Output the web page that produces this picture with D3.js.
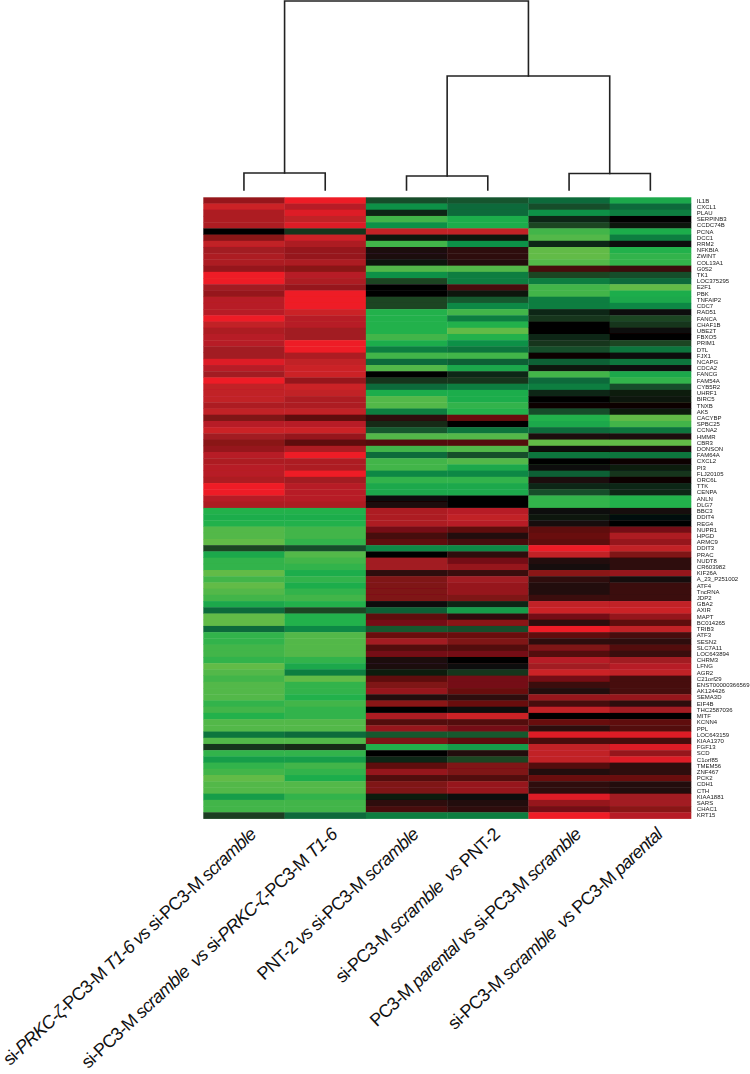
<!DOCTYPE html>
<html><head><meta charset="utf-8">
<script src="https://cdn.jsdelivr.net/npm/d3@7/dist/d3.min.js"></script>
<style>html,body{margin:0;padding:0;background:#fff}svg{display:block}</style>
</head><body><svg id="c" width="750" height="1074"></svg>
<script>
const genes = ["IL1B","CXCL1","PLAU","SERPINB3","CCDC74B","PCNA","DCC1","RRM2","NFKBIA","ZWINT","COL13A1","G0S2","TK1","LOC375295","E2F1","PBK","TNFAIP2","CDC7","RAD51","FANCA","CHAF1B","UBE2T","FBXO5","PRIM1","DTL","FJX1","NCAPG","CDCA2","FANCG","FAM54A","CYB5R2","UHRF1","BIRC5","TNXB","AK5","CACYBP","SPBC25","CCNA2","HMMR","CBR3","DONSON","FAM64A","CXCL2","PI3","FLJ20105","ORC6L","TTK","CENPA","ANLN","DLG7","BBC3","DDIT4","REG4","NUPR1","HPGD","ARMC9","DDIT3","PRAC","NUDT8","CR603982","KIF26A","A_23_P251002","ATF4","TncRNA","JDP2","GBA2","AXIR","MAPT","BC014265","TRIB3","ATF3","SESN2","SLC7A11","LOC643894","CHRM3","LFNG","AGR2","C21orf29","ENST00000366569","AK124426","SEMA3D","EIF4B","THC2587036","MITF","KCNN4","PPL","LOC643159","KIAA1370","FGF13","SCD","C1orf85","TMEM56","ZNF467","PCK2","CDH1","CTH","KIAA1881","SARS","CHAC1","KRT15"];
const col1 = [6.5,9,7.5,7.5,7.5,0,6,8.5,7,7.5,7.5,6.5,10,10,7,6.5,8,8,8,10,8.5,7.5,8,8,7,7,9.5,8,7,10,8.5,8.5,8.5,7.5,8.5,5.5,8,9,7,6,6.5,8,7.5,8,8,7.5,10,10,8,7.5,-8,-7.5,-8,-9.5,-9.5,-10,-2,-7,-8.5,-8.5,-10,-9,-10,-9.5,-9,-7,-4,-10,-10,-4,-8.5,-8.5,-9,-9,-8.5,-10,-9.5,-9,-9.5,-9.5,-9.5,-8.5,-9,-8,-9.5,-9.5,-4.5,-9.5,-1.5,-8.5,-6.5,-8.5,-9,-10,-9.5,-9.5,-6.5,-9,-9,-1.8];
const col2 = [10,8,9.5,8.5,9.5,-1.5,9,7.5,6.5,6.5,7.5,6,8,7.5,6.5,10,10,10,9,8,8,7,7,10,10,7.5,8.5,9,9,6.5,9,8.5,7.5,7.5,8.5,4,8,9,6.5,4,7.5,10,7.5,7.5,10,7,8,8,8,7.5,-8,-7.5,-8,-9,-9,-8.5,-2.5,-9.5,-9,-8.5,-7.5,-8.5,-7.5,-8.5,-9,-8,-2,-8,-8,-5.5,-9.5,-9.5,-9.5,-9.5,-8.5,-7,-5,-10,-8.5,-8.5,-8,-9,-8.5,-8.5,-9.5,-9.5,-4,-9.5,-1.2,-8.5,-6.5,-9,-8.5,-7.5,-9.5,-9.5,-8.5,-9,-9,-4];
const col3 = [-2.5,-6,-1,-9,-6,8.5,-0.5,-9,1,1,-0.5,-9.5,-6,-2,0,0,-2,-2,-8,-8,-8,-8,-9,-7.5,-5,-9,-4,-9.5,0,-1.5,-4,-7.5,-9.5,-9.5,-5,2,-1.2,-3,-9.5,3.5,-9,-4,-9,-9,-5.5,-8.5,-7,-7,0.5,1,7.5,7.5,7.5,5,3,4,-5.5,0,7,7,2,5.5,5.5,5.5,5.5,-0.3,-3.5,4,5,-3,4.5,7,3.5,5,1,1,-0.7,4,5.5,6.5,1.5,6,0,7.5,3.5,6.5,-3,5.5,-8,0,-1,4,6.5,3.5,5.5,5.5,-0.7,2,3,-5];
const col4 = [-2.8,-4,-4,-7.5,-7.5,8.5,-0.5,-6,2,2,1.5,-9.5,-5,-5,3,-0.5,-3,-5.5,-9,-5,-8,-10,-8,-6,-4.5,-9,-3.5,-7,-1,-1.5,-5,-7.5,-7.5,-8.5,-8,4.5,0,-4.5,-9.5,3.5,-9.5,-2.5,-9.5,-7,-5.5,-8.5,-7,-7,0,0,8,8.5,8,4,1.5,3,-5.5,2,5,6.5,2.5,7,6.5,6.5,5.5,-1,-6.5,2,6,-2.5,4.5,5.5,3.5,5,0,0.5,-1.5,5,5,4.5,2,4.5,0.5,9,3.5,5,-3,4,-6.5,1.5,-2,5.5,5.5,3.5,6.5,6.5,-0.3,1.5,2,-5];
const col5 = [-4,-2.5,-6,-1,-2,-9,-9.5,-1,-10,-10,-9.5,3,-2,-5,-9,-9,-5,-5,-1,-1.5,0,0,-1,-1.5,-2.5,0.2,-3.5,-0.5,-9,-4,-5,-1,0,0.2,-2.5,-8,-7,-4,1,-10,0.5,-4.5,0,-0.3,-3.5,1,-1,-2.5,-8.5,-8.5,0.5,-0.5,0.8,4,4.5,4,10,8.5,1.5,0.7,6,2,1.5,1.5,2.5,8.5,9,5,2,10,4,2,5.5,3.5,8,7,9,5,2.5,1.5,6.5,3,8.5,0,4.5,2,9.5,3,8.5,8.5,8.5,3.5,1.5,4.5,2,2,9.5,6.5,5,10];
const col6 = [-7,-4,-5,0,-0.5,-7.5,-5,-0.3,-8,-8.5,-8.5,2.5,-2.5,-4,-10,-7.5,-7,-5.5,-0.3,-2,-1.5,0.5,0,-2,-4.5,0.5,-4.5,-0.3,-7,-8.5,-2.5,-0.7,-0.5,0.4,-0.7,-10,-9,-4.5,1,-10,0.8,-4.5,0.4,-0.7,-1.5,0.2,-1,-1,-8,-8,0.7,-0.1,0,5,7.5,6.5,8.5,5.5,2,2,6.5,0.8,2.5,2.5,2.5,8.5,9,6.5,4,8.5,3,2,3.5,2.5,7,8,8.5,3,3,3,6.5,2,7,0,4,3.5,9.5,3,9.5,6.5,9.5,2,2,4.5,1.5,1.5,7,7,6,8];
const seriesValues = [col1,col2,col3,col4,col5,col6];
const colourStops = [-10,-9,-8,-7,-6,-4,-2,0,2,4,6,7,8,9,10];
const colourRange = ["#62bb46","#42b549","#24b14c","#1aa84b","#109147","#0c6b3a","#1c4424","#050505","#2e0b0c","#5e0a0c","#8a1518","#a21c21","#b71e25","#cb2128","#ee1c25"];

const svg = d3.select("#c");
const defs = svg.append("defs");
defs.append("filter").attr("id","soft").attr("x","-2%").attr("y","-2%").attr("width","104%").attr("height","104%")
  .append("feGaussianBlur").attr("stdDeviation",0.55);
defs.append("filter").attr("id","softT").append("feGaussianBlur").attr("stdDeviation",0.25);
const x = d3.scaleBand().domain(d3.range(6)).range([203.3,691]);
const y = d3.scaleBand().domain(genes).range([197.3,818.5]);
const colour = d3.scaleLinear().domain(colourStops).range(colourRange).clamp(true);
const yH = d3.scaleLinear().domain([0,190]).range([190,0]);

const heat = svg.append("g").attr("filter","url(#soft)");
seriesValues.forEach((vals,i)=>{
  heat.append("g").selectAll("rect").data(vals).join("rect")
    .attr("x",x(i)).attr("width",x.bandwidth()+0.3)
    .attr("y",(d,j)=>y(genes[j])).attr("height",y.bandwidth()+0.4)
    .attr("fill",d=>colour(d));
});

svg.append("g").attr("filter","url(#softT)").selectAll("text").data(genes).join("text")
  .attr("x",696.8).attr("y",d=>y(d)+y.bandwidth()/2+2.1)
  .attr("font-family","Liberation Sans, Arial, sans-serif").attr("font-size",6)
  .attr("fill","#1a1a1a").text(d=>d);

// dendrogram
const branches = [[0,1,17],[2,3,14],[4,5,16.5]];
const cx = i=>x(i)+x.bandwidth()/2;
const nodes = {};
const link = d3.line();
const den = svg.append("g").attr("fill","none").attr("stroke","#222").attr("stroke-width",1.6).attr("stroke-linecap","square");
const ids=["a","b","c"];
branches.forEach((b,k)=>{
  const xa=cx(b[0]),xb=cx(b[1]),h=yH(b[2]);
  nodes[ids[k]]={x:(xa+xb)/2,y:h};
  den.append("path").attr("d",link([[xa,yH(0)],[xa,h],[xb,h],[xb,yH(0)]]));
});
function join(l,r,ht,id){
  const a=nodes[l],c=nodes[r],h=yH(ht);
  nodes[id]={x:(a.x+c.x)/2,y:h};
  den.append("path").attr("d",link([[a.x,a.y],[a.x,h],[c.x,h],[c.x,c.y]]));
}
join("b","c",114,"bc");
join("a","bc",189,"root");

// column labels: [text, italic?] runs
const colLabels = [
 [["si-",0],["PRKC-ζ",1],["-PC3-M",0],[" T1-6 vs",1],[" si-PC3-M",0],[" scramble",1]],
 [["si-PC3-M",0],[" scramble  vs",1],[" si-",0],["PRKC-ζ",1],["-PC3-M",0],[" T1-6",1]],
 [["PNT-2",0],[" vs",1],[" si-PC3-M",0],[" scramble",1]],
 [["si-PC3-M",0],[" scramble  vs",1],[" PNT-2",0]],
 [["PC3-M",0],[" parental vs",1],[" si-PC3-M",0],[" scramble",1]],
 [["si-PC3-M",0],[" scramble  vs",1],[" PC3-M",0],[" parental",1]]
];
const lab = svg.append("g").selectAll("text").data(colLabels).join("text")
  .attr("transform",(d,i)=>`translate(${cx(i)+13},836) rotate(-43)`)
  .attr("text-anchor","end")
  .attr("font-family","Liberation Sans, Arial, sans-serif").attr("font-size",18).attr("letter-spacing",-0.75).attr("fill","#111");
lab.selectAll("tspan").data(d=>d).join("tspan")
  .attr("font-style",d=>d[1]?"italic":"normal").style("white-space","pre").text(d=>d[0]);
</script></body></html>
